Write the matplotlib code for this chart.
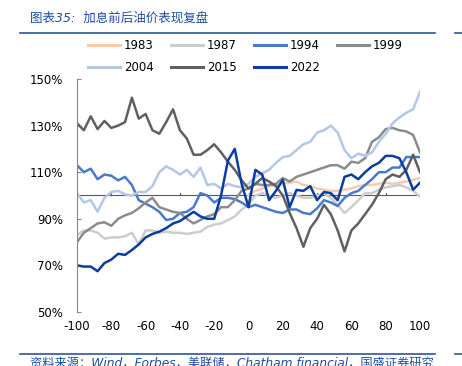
import matplotlib.pyplot as plt
from matplotlib.lines import Line2D
import numpy as np

plt.rcParams['font.family'] = ['DejaVu Sans', 'Noto Sans CJK SC']
plt.rcParams['axes.unicode_minus'] = False

# trading days relative to the first hike, sampled every 4 days
days = list(range(-100, 101, 4))

nan = np.nan
y1983 = [nan] * 25 + [100, 102, 103, 104, 104.5, 105, 105.5, 106, 104.5, 104, 103, 102.5, 102,
                      102, 102.5, 103, 104, 104.5, 104.5, 105, 105.5, 105, 105.5, 106, 106.7, 107.5]
y1987 = [83, 85, 85, 84, 81.5, 82, 82, 82.5, 84, 79, 85, 85, 84, 84.5, 84, 84, 83.5, 84, 84.5, 86.5,
         87.5, 88, 89.5, 91, 94, 96, 100, 101, 100, 99, 100, 101, 100, 99, 99, 100, 101, 99, 96, 92.5,
         95, 98, 101, 101, 102.5, 103.5, 104, 104.5, 103.5, 102, 99.5]
y1994 = [113, 110, 111.5, 107, 109, 108.5, 106.5, 108, 104.5, 98, 96.5, 95, 93, 89.5, 90, 92.5, 93, 95,
         101, 100, 97, 99, 99, 98.5, 97, 95, 96, 95, 94, 93, 92.5, 94, 94, 92.5, 92, 94.5, 98, 97, 95.5,
         99, 101, 102, 104.5, 107, 110, 110, 112, 112, 116.5, 116.5, 116.5]
y1999 = [80, 84, 86, 88, 88.5, 87, 90, 91.5, 92.5, 94.5, 97, 99, 95, 94, 93, 92.5, 90, 88, 89.5, 91,
         92, 95, 95, 98, 102, 103, 105, 104.5, 104.5, 105, 107.5, 106, 108, 109, 110, 111, 112, 113,
         113, 111.5, 114.5, 114, 116, 123, 125, 128.5, 129, 128, 127.5, 126, 118.5]
y2004 = [101, 97, 98, 93, 99, 101.5, 102, 100.5, 100, 101.5, 101.5, 104, 110, 112.5, 111, 109, 111,
         108, 112, 104.5, 105, 103, 105, 104, 103.5, 105, 108, 109.5, 111, 114, 116.5, 117, 119.5, 122,
         123, 127, 128, 130, 127, 119.5, 116, 118, 117, 118.5, 123, 126.5, 131, 133.5, 135.5, 137, 144.5]
y2015 = [131, 128, 134, 128.5, 132, 129, 130, 131.5, 142, 133, 135, 128, 126.5, 131.5, 137, 128, 124.5,
         117.5, 117.5, 119.5, 122, 118.5, 114.5, 111, 106.5, 103, 105, 107.5, 106, 104, 100, 92.5, 86,
         78, 86, 90, 96, 92, 85, 76, 85, 88, 92, 96, 101, 107, 109, 108, 111, 117.5, 110]
y2022 = [70, 69.5, 69.5, 67.5, 71, 72.5, 75, 74.5, 76.6, 79, 82, 83.5, 84.5, 86, 88, 89, 91, 93, 91, 90,
         90, 100, 115, 120, 105, 95, 111, 109, 98, 102, 106.7, 95, 102.4, 102, 104, 98, 101.5, 101, 98,
         108, 109, 107, 110, 112.5, 114, 117, 117, 116, 110, 102.5, 105.5]

series = [('1983', y1983, '#F8CBAD'), ('1987', y1987, '#CDCDCD'), ('1994', y1994, '#4A7BC8'),
          ('1999', y1999, '#8C8C8C'), ('2004', y2004, '#B4C7E7'), ('2015', y2015, '#606060'),
          ('2022', y2022, '#0B3D9F')]

fig = plt.figure(figsize=(4.62, 3.66), dpi=100)
ax = fig.add_axes([77 / 462, 1 - 312 / 366, 343 / 462, 233 / 366])

ax.axhline(100, color='#595959', lw=0.8, zorder=1)
for t in [-80, -40, 0, 40, 80]:
    ax.plot([t, t], [100, 101.2], color='#595959', lw=0.8, zorder=1)

handles = {}
for name, vals, col in series:
    ax.plot(days, vals, color=col, lw=1.8, zorder=2, solid_joinstyle='round')
    handles[name] = Line2D([], [], color=col, lw=2.2, label=name)

ax.set_xlim(-100, 100)
ax.set_ylim(50, 150)
ax.set_yticks([50, 70, 90, 110, 130, 150])
ax.set_yticklabels([f'{v}%' for v in [50, 70, 90, 110, 130, 150]])
ax.set_xticks(range(-100, 101, 20))
for s in ['top', 'right', 'bottom']:
    ax.spines[s].set_visible(False)
ax.spines['left'].set_color('#888888')
ax.spines['left'].set_linewidth(0.8)
ax.tick_params(axis='y', direction='in', length=3, width=0.8, color='#888888', labelsize=8.5, pad=10)
ax.tick_params(axis='x', length=0, labelsize=8.5, pad=6)

# column-major fill, so order the handles to read row by row
order = ['1983', '2004', '1987', '2015', '1994', '2022', '1999']
fig.legend(handles=[handles[k] for k in order], loc='upper left',
           bbox_to_anchor=(88 / 462, 1 - 39 / 366), ncol=4,
           frameon=False, fontsize=8.5, handlelength=2.7, handletextpad=0.35, columnspacing=1.45,
           labelspacing=0.75, borderpad=0, borderaxespad=0)

blue = '#2F5597'
fig.text(30 / 462, 1 - 18 / 366, '图表35:  加息前后油价表现复盘', color='#1F4E9A', fontsize=9,
         style='italic', va='center', family=['DejaVu Sans', 'Noto Sans CJK SC'])
fig.add_artist(Line2D([20 / 462, 435 / 462], [1 - 33 / 366] * 2, color=blue, lw=1.2))
fig.add_artist(Line2D([455 / 462, 1], [1 - 33 / 366] * 2, color=blue, lw=1.2))
fig.add_artist(Line2D([20 / 462, 435 / 462], [1 - 354 / 366] * 2, color=blue, lw=1.2))
fig.add_artist(Line2D([455 / 462, 1], [1 - 354 / 366] * 2, color=blue, lw=1.2))
fig.text(30 / 462, 1 - 357 / 366, '资料来源：Wind，Forbes，美联储，Chatham financial，国盛证券研究',
         color='#1F4E9A', fontsize=8.8, style='italic', va='top',
         family=['DejaVu Sans', 'Noto Sans CJK SC'])

plt.savefig('out.png', dpi=100)
plt.close()
